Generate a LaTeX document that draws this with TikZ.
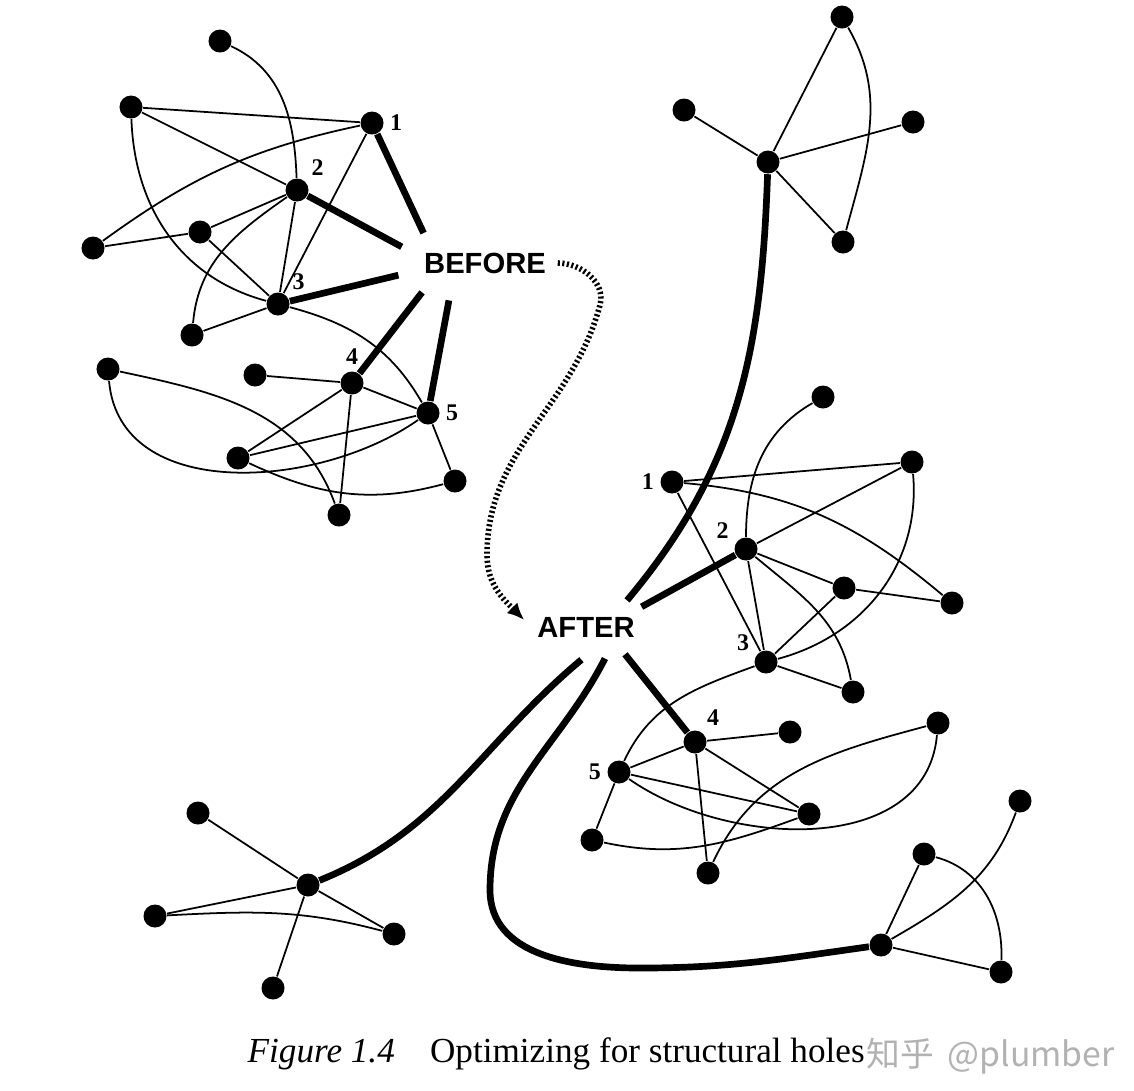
\documentclass[tikz,border=0pt]{standalone}
\usepackage{fontspec}
\setmainfont{Liberation Serif}
\newfontfamily\headfont{Liberation Sans}
\newfontfamily\cjkfont{Noto Sans CJK SC}
\usetikzlibrary{arrows.meta,shapes.geometric}

\begin{document}
\begin{tikzpicture}[x=0.01cm,y=-0.01cm,
  dot/.style={circle,fill=black,minimum size=2.3mm,inner sep=0pt},
  num/.style={font=\fontsize{6.8}{7}\selectfont\bfseries,inner sep=1.5pt},
  link/.style={line width=0.5pt},
  bridge/.style={line width=1.9pt},
  phase/.style={ellipse,inner sep=0pt,font=\headfont\fontsize{8.3}{9}\selectfont\bfseries},
  change/.style={line width=1.6pt,dash pattern=on 0.6pt off 0.7pt,-{Latex[length=1.7mm,width=1.5mm]}}]
\useasboundingbox (0,0) rectangle (1134,1090);
% phase labels
\node[phase,minimum width=1.8cm,minimum height=0.8cm] (before) at (485,263) {BEFORE};
\node[phase,minimum width=1.4cm,minimum height=0.64cm] (after) at (586,627) {AFTER};
% before: upper cluster
\node[dot,label={[num]right:1}] (b1) at (372,123) {};
\node[dot,label={[num]north east:2}] (b2) at (297,190) {};
\node[dot,label={[num]north east:3}] (b3) at (278,304) {};
\node[dot] (ua) at (220,41) {};
\node[dot] (ub) at (131,107) {};
\node[dot] (uc) at (93,248) {};
\node[dot] (ud) at (200,232) {};
\node[dot] (ue) at (192,335) {};
\draw[link] (ua) to[out=-25,in=92] (b2);
\draw[link] (ub) -- (b1) (ub) -- (b2) (uc) -- (ud) (ud) -- (b2) (ud) -- (b3);
\draw[link] (b2) -- (b3) (b1) -- (b3) (ue) -- (b3);
\draw[link] (ub) to[out=272,in=165] (b3);
\draw[link] (b1) to[out=192,in=36] (uc);
\draw[link] (b2) to[out=215,in=85] (ue);
% before: lower cluster
\node[dot,label={[num]above:4}] (b4) at (352,383) {};
\node[dot,label={[num]right:5}] (b5) at (428,413) {};
\node[dot] (la) at (108,369) {};
\node[dot] (lb) at (255,375) {};
\node[dot] (lc) at (238,458) {};
\node[dot] (ld) at (455,481) {};
\node[dot] (le) at (339,515) {};
\draw[link] (b3) to[out=-15,in=120] (b5);
\draw[link] (la) to[out=-12,in=110] (le);
\draw[link] (la) to[out=-85,in=215] (b5);
\draw[link] (lb) -- (b4) (b4) -- (b5) (b4) -- (lc) (b4) -- (le) (lc) -- (b5) (b5) -- (ld);
\draw[link] (lc) to[out=-25,in=195] (ld);
\foreach \n/\a in {b1/154,b2/169,b3/188,b4/205,b5/226}
  \draw[bridge] (\n) -- (before.\a);
% after: top star
\node[dot] (th) at (768,162) {};
\node[dot] (t1) at (842,17) {};
\node[dot] (t2) at (684,110) {};
\node[dot] (t3) at (913,122) {};
\node[dot] (t4) at (843,242) {};
\foreach \n in {t1,t2,t3,t4}
  \draw[link] (th) -- (\n);
\draw[link] (t1) to[out=-60,in=75] (t4);
% after: middle cluster
\node[dot,label={[num]left:1}] (a1) at (672,482) {};
\node[dot,label={[num]160:2}] (a2) at (746,549) {};
\node[dot,label={[num]155:3}] (a3) at (766,662) {};
\node[dot] (ma) at (823,397) {};
\node[dot] (mb) at (912,462) {};
\node[dot] (mc) at (844,588) {};
\node[dot] (md) at (952,603) {};
\node[dot] (me) at (853,692) {};
\draw[link] (ma) to[out=210,in=90] (a2);
\draw[link] (a1) -- (mb) (a1) -- (a3) (a2) -- (mb) (a2) -- (mc) (a2) -- (a3);
\draw[link] (mc) -- (md) (mc) -- (a3) (a3) -- (me);
\draw[link] (a1) to[out=-5,in=140] (md);
\draw[link] (mb) to[out=-85,in=15] (a3);
\draw[link] (a2) to[out=-40,in=100] (me);
% after: lower cluster
\node[dot,label={[num]60:4}] (a4) at (695,742) {};
\node[dot,label={[num]left:5}] (a5) at (619,772) {};
\node[dot] (wa) at (790,732) {};
\node[dot] (wb) at (938,723) {};
\node[dot] (wc) at (809,814) {};
\node[dot] (wd) at (592,840) {};
\node[dot] (we) at (708,873) {};
\draw[link] (a3) to[out=200,in=65] (a5);
\draw[link] (a4) -- (wa) (a4) -- (a5) (a4) -- (wc) (a4) -- (we) (a5) -- (wc) (a5) -- (wd);
\draw[link] (a5) to[out=-35,in=265] (wb);
\draw[link] (wd) to[out=-12,in=200] (wc);
\draw[link] (we) to[out=65,in=195] (wb);
% after: right star
\node[dot] (rh) at (881,945) {};
\node[dot] (r1) at (1020,801) {};
\node[dot] (r2) at (924,854) {};
\node[dot] (r3) at (1001,972) {};
\draw[link] (rh) -- (r2) (rh) -- (r3);
\draw[link] (rh) to[out=30,in=250] (r1);
\draw[link] (r2) to[out=-15,in=88] (r3);
% after: left star
\node[dot] (sh) at (308,885) {};
\node[dot] (s1) at (198,813) {};
\node[dot] (s2) at (155,916) {};
\node[dot] (s3) at (394,934) {};
\node[dot] (s4) at (273,988) {};
\foreach \n in {s1,s2,s3,s4}
  \draw[link] (sh) -- (\n);
\draw[link] (s2) to[out=3,in=165] (s3);
% bridges from after
\draw[bridge] (th) to[out=268,in=50] (after.33);
\draw[bridge] (a2) -- (after.20);
\draw[bridge] (a4) -- (after.-35);
\draw[bridge] (after.-59) to[out=243,in=90] (490,890) to[out=270,in=180] (640,968) to[out=0,in=188] (rh);
\draw[bridge] (after.262) to[out=220,in=22] (sh);
% before -> after
\draw[change] ([xshift=-0.18cm]before.east) to[out=0,in=75] (600,305) to[out=255,in=90] (487,555)
  to[out=270,in=135] ([shift={(0.09cm,0.07cm)}]after.west);
% caption
\node[anchor=base west,inner sep=0pt,font=\fontsize{10}{12}\selectfont] (caption) at (247,1062)
  {\textit{Figure 1.4}\hspace{1em}Optimizing for structural holes};
\node[anchor=base west,inner sep=0pt,text=black!30,font=\cjkfont\fontsize{9.6}{12}\selectfont] (mark) at (866,1066)
  {知乎\hspace{0.4em}@plumber};
\end{tikzpicture}
\end{document}
